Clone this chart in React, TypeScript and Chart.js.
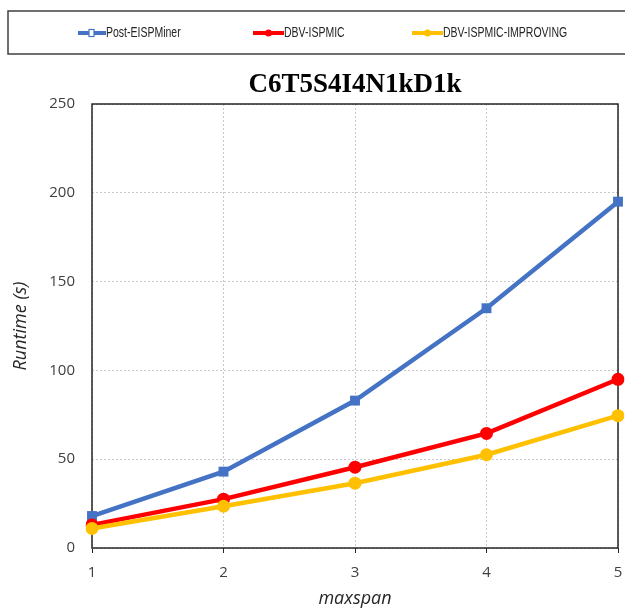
import React, { useEffect, useRef } from "react";
import { Chart, registerables } from "chart.js";

Chart.register(...registerables);

const categories = ["1", "2", "3", "4", "5"];
const postEISPMiner = [18, 43, 83, 135, 195];
const dbvISPMIC = [13, 27.5, 45.5, 64.5, 95];
const dbvISPMICImproving = [11, 23.5, 36.5, 52.5, 74.5];
const seriesLabels = ["Post-EISPMiner", "DBV-ISPMIC", "DBV-ISPMIC-IMPROVING"];
const yTicks = [0, 50, 100, 150, 200, 250];
const chartTitle = "C6T5S4I4N1kD1k";
const xTitle = "maxspan";
const yTitle = "Runtime (s)";

const colors = ["#4472C4", "#FF0000", "#FFC000"];

const headerPlugin = {
  id: "header",
  beforeDatasetsDraw(chart: any) {
    const { ctx, chartArea } = chart;
    ctx.save();
    ctx.strokeStyle = "#262626";
    ctx.lineWidth = 1.5;
    ctx.strokeRect(chartArea.left, chartArea.top, chartArea.right - chartArea.left, chartArea.bottom - chartArea.top);
    ctx.restore();
  },
  afterDraw(chart: any) {
    const { ctx, chartArea } = chart;
    ctx.save();
    // legend box
    ctx.strokeStyle = "#404040";
    ctx.lineWidth = 1.5;
    ctx.strokeRect(8, 11, 640, 43);
    const xs = [78, 253, 412];
    const lens = [28, 31, 31];
    const y = 33;
    chart.data.datasets.forEach((ds: any, i: number) => {
      const x0 = xs[i];
      const len = lens[i];
      ctx.strokeStyle = ds.borderColor;
      ctx.lineWidth = 4;
      ctx.beginPath();
      ctx.moveTo(x0, y);
      ctx.lineTo(x0 + len, y);
      ctx.stroke();
      ctx.fillStyle = ds.borderColor;
      if (i === 0) {
        ctx.fillStyle = "#ffffff";
        ctx.fillRect(x0 + 11, y - 3.5, 5, 7);
        ctx.strokeStyle = ds.borderColor;
        ctx.lineWidth = 1.2;
        ctx.strokeRect(x0 + 11, y - 3.5, 5, 7);
      } else {
        ctx.beginPath();
        ctx.arc(x0 + len / 2, y, 3.5, 0, Math.PI * 2);
        ctx.fill();
      }
      ctx.fillStyle = "#262626";
      ctx.font = "14px 'Liberation Sans', Arial, sans-serif";
      ctx.textBaseline = "middle";
      ctx.textAlign = "left";
      ctx.save();
      ctx.translate(x0 + len, y);
      ctx.scale(0.75, 1);
      ctx.fillText(ds.label, 0, 0);
      ctx.restore();
    });
    // title
    ctx.fillStyle = "#000000";
    ctx.font = "bold 27px 'Liberation Serif', 'Times New Roman', serif";
    ctx.textAlign = "center";
    ctx.textBaseline = "middle";
    ctx.fillText(chartTitle, (chartArea.left + chartArea.right) / 2, 85);
    ctx.restore();
  },
};

export default function App() {
  const ref = useRef<HTMLCanvasElement>(null);
  useEffect(() => {
    document.body.style.margin = "0";
    const canvas = ref.current!;
    const chart = new Chart(canvas, {
      type: "line",
      data: {
        labels: categories,
        datasets: [
          {
            label: seriesLabels[0],
            data: postEISPMiner,
            borderColor: colors[0],
            backgroundColor: colors[0],
            borderWidth: 4.5,
            pointStyle: "rect",
            pointRadius: 7,
            pointBorderWidth: 0,
            order: 3,
          },
          {
            label: seriesLabels[1],
            data: dbvISPMIC,
            borderColor: colors[1],
            backgroundColor: colors[1],
            borderWidth: 4.5,
            pointStyle: "circle",
            pointRadius: 6.5,
            pointBorderWidth: 0,
            order: 2,
          },
          {
            label: seriesLabels[2],
            data: dbvISPMICImproving,
            borderColor: colors[2],
            backgroundColor: colors[2],
            borderWidth: 4.5,
            pointStyle: "circle",
            pointRadius: 6.5,
            pointBorderWidth: 0,
            order: 1,
          },
        ],
      },
      options: {
        animation: false,
        responsive: false,
        layout: { padding: { top: 104, right: 4, left: 0, bottom: 0 } },
        plugins: {
          legend: { display: false },
          title: { display: false },
          tooltip: { enabled: false },
        },
        scales: {
          x: {
            offset: false,
            grid: {
              color: "#c8c8c8",
              tickLength: 5,
              tickColor: "#262626",
              tickBorderDash: [],
            } as any,
            border: { display: false, dash: [2, 2] },
            ticks: {
              color: "#404040",
              font: { family: "'Open Sans', sans-serif", size: 15 },
              padding: 11,
              maxRotation: 0,
            },
            title: {
              display: true,
              text: xTitle,
              color: "#262626",
              font: { family: "'Open Sans', sans-serif", size: 18, style: "italic" },
              padding: { top: 0, bottom: 0 },
            },
            afterFit(scale: any) {
              scale.height = 62;
              scale.paddingLeft = 0;
              scale.paddingRight = 0;
            },
          },
          y: {
            min: 0,
            max: 250,
            afterBuildTicks(scale: any) {
              scale.ticks = yTicks.map((v) => ({ value: v }));
            },
            grid: {
              color: "#c8c8c8",
              tickLength: 0,
            } as any,
            border: { display: false, dash: [2, 2] },
            ticks: {
              color: "#404040",
              font: { family: "'Open Sans', sans-serif", size: 15 },
              padding: 17,
            },
            title: {
              display: true,
              text: yTitle,
              color: "#262626",
              font: { family: "'Open Sans', sans-serif", size: 18, style: "italic" },
              padding: { top: 10, bottom: 0 },
            },
            afterFit(scale: any) {
              scale.width = 92;
            },
          },
        },
      },
      plugins: [headerPlugin],
    });
    return () => chart.destroy();
  }, []);
  return (
    <div style={{ position: "absolute", left: 0, top: 0, width: 625, height: 610 }}>
      <canvas ref={ref} width={625} height={610} style={{ display: "block", width: 625, height: 610 }} />
    </div>
  );
}
